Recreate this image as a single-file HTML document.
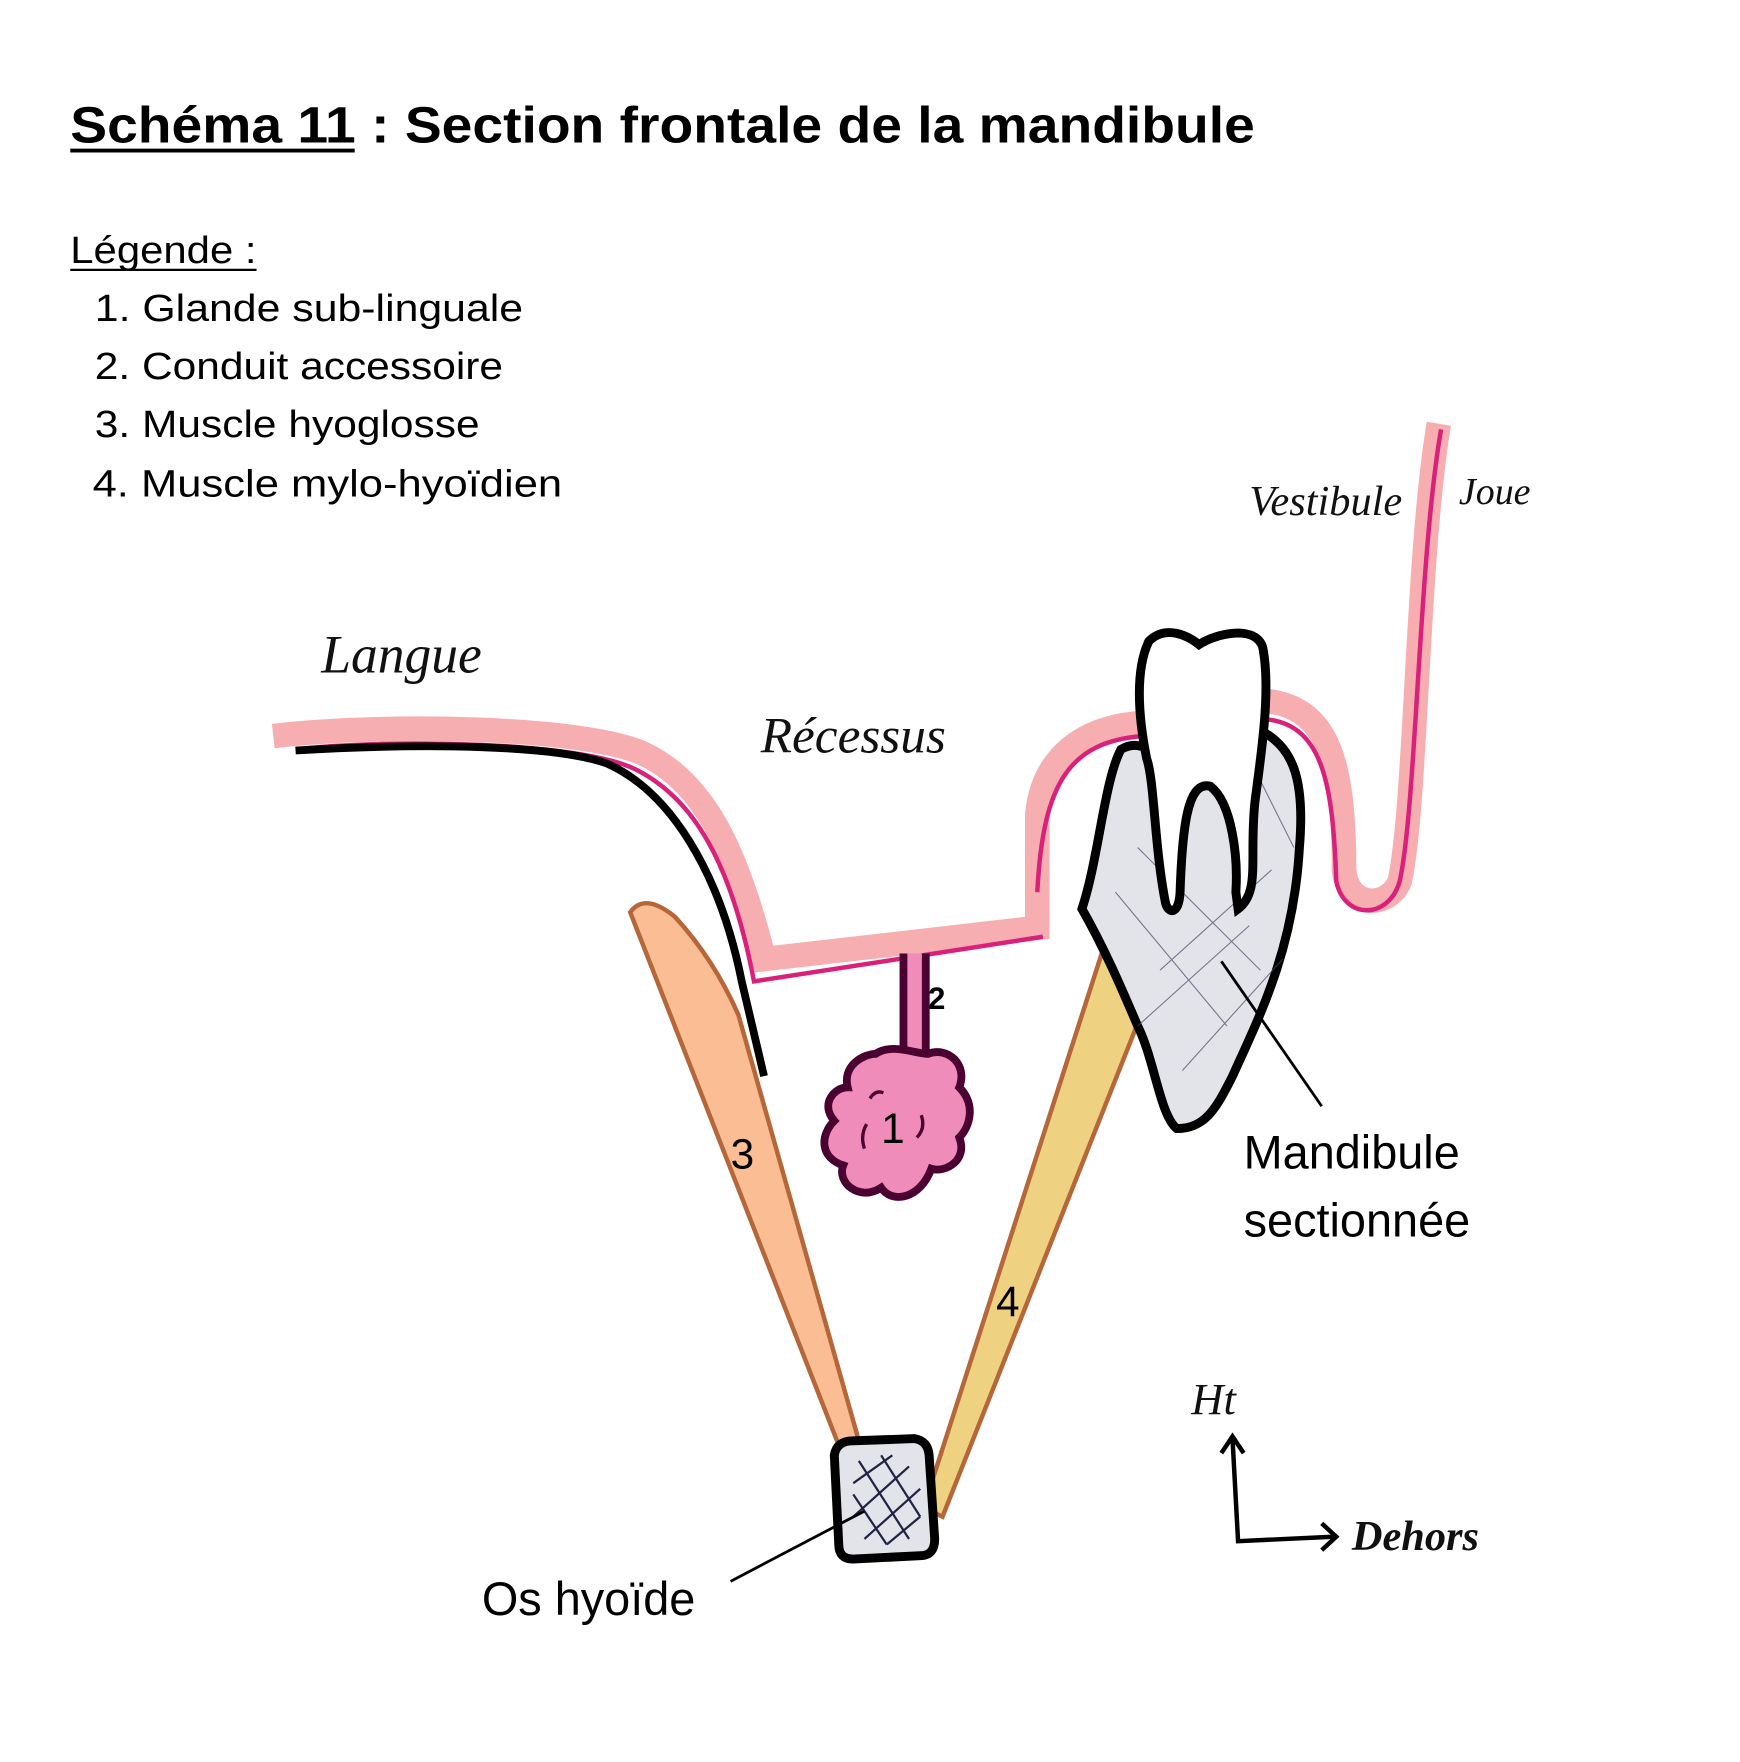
<!DOCTYPE html>
<html><head><meta charset="utf-8"><style>
html,body{margin:0;padding:0;background:#fff;}
svg{display:block;}
</style></head><body>
<svg width="1740" height="1762" viewBox="0 0 1560 1580" preserveAspectRatio="none" xmlns="http://www.w3.org/2000/svg">
<text x="63" y="128" font-family="Liberation Sans, sans-serif" font-weight="bold" font-size="46" textLength="1062" lengthAdjust="spacingAndGlyphs">Schéma 11 : Section frontale de la mandibule</text>
<line x1="63" y1="135" x2="318" y2="135" stroke="#000" stroke-width="3.5"/>
<g font-family="Liberation Sans, sans-serif" font-size="34">
<text x="63" y="236" textLength="167" lengthAdjust="spacingAndGlyphs">Légende :</text>
<line x1="63" y1="242" x2="230" y2="242" stroke="#000" stroke-width="2"/>
<text x="85" y="288" textLength="384" lengthAdjust="spacingAndGlyphs">1. Glande sub-linguale</text>
<text x="85" y="340" textLength="366" lengthAdjust="spacingAndGlyphs">2. Conduit accessoire</text>
<text x="85" y="392" textLength="345" lengthAdjust="spacingAndGlyphs">3. Muscle hyoglosse</text>
<text x="83" y="445" textLength="421" lengthAdjust="spacingAndGlyphs">4. Muscle mylo-hyoïdien</text>
</g>
<!-- muscle 3 -->
<path d="M565,818 Q578,800 605,822 Q640,860 662,910 L770,1292 L752,1296 Z" fill="#fbbd93" stroke="#b5673a" stroke-width="4"/>
<!-- muscle 4 -->
<path d="M990,848 L1025,905 L845,1360 L828,1352 Z" fill="#efd182" stroke="#b5673a" stroke-width="4"/>
<!-- pink mucosa left -->
<path d="M245,660 C350,648 520,652 575,675 C630,700 660,760 685,860 L930,832 L930,730 C935,680 970,650 1030,648" fill="none" stroke="#f6aeb1" stroke-width="22"/>
<path d="M265,672 C350,662 520,665 570,690 C620,715 655,770 676,880 L935,840" fill="none" stroke="#d9207a" stroke-width="4"/>
<!-- black tongue line -->
<path d="M265,673 C380,666 500,668 545,685 C600,710 645,780 665,880 L685,965" fill="none" stroke="#000" stroke-width="7"/>
<!-- pink mucosa right -->
<path d="M1130,628 C1190,632 1205,680 1205,780 C1208,815 1245,815 1255,790 C1270,720 1270,500 1290,380" fill="none" stroke="#f6aeb1" stroke-width="22"/>
<path d="M1135,645 C1185,650 1195,700 1198,790 C1205,825 1245,825 1255,790 C1270,720 1272,500 1292,385" fill="none" stroke="#d9207a" stroke-width="4"/>
<path d="M930,800 C935,700 960,665 1025,660" fill="none" stroke="#d9207a" stroke-width="4"/>
<!-- duct -->
<path d="M810,855 L810,945 L830,945 L830,855" fill="#ef8cba" stroke="#4a0030" stroke-width="7"/>
<!-- gland -->
<path d="M785,945 C800,935 820,945 832,945 C850,938 868,955 860,975 C875,990 870,1010 860,1020 C868,1040 848,1052 835,1048 C825,1075 800,1080 790,1065 C770,1078 750,1060 756,1045 C735,1038 735,1018 748,1005 C735,990 748,975 760,975 C755,955 775,945 785,945 Z" fill="#ef8cba" stroke="#4a0030" stroke-width="7"/>
<path d="M780,985 q5,-8 12,-5 M775,1030 q-4,-12 2,-22 M822,1020 q8,-8 4,-20" fill="none" stroke="#4a0030" stroke-width="3"/>
<text x="790" y="1025" font-family="Liberation Sans, sans-serif" font-size="38">1</text>
<text x="832" y="905" font-family="Liberation Sans, sans-serif" font-weight="bold" font-size="28">2</text>
<text x="655" y="1048" font-family="Liberation Sans, sans-serif" font-size="38">3</text>
<text x="893" y="1180" font-family="Liberation Sans, sans-serif" font-size="38">4</text>
<!-- mandible -->
<path d="M1005,672 C1025,660 1045,680 1040,700 L1130,655 C1160,670 1170,700 1165,760 C1160,850 1130,910 1105,965 C1090,995 1080,1012 1055,1012 C1040,1000 1035,950 1020,920 C1005,885 990,850 970,815 C985,770 990,700 1005,672 Z" fill="#e2e4ea" stroke="#000" stroke-width="8"/>
<g stroke="#4a4a66" stroke-width="1" fill="none" opacity="0.7">
<line x1="1000" y1="800" x2="1100" y2="920"/><line x1="1020" y1="760" x2="1130" y2="870"/><line x1="1040" y1="870" x2="1140" y2="780"/><line x1="1020" y1="920" x2="1120" y2="830"/><line x1="1060" y1="960" x2="1150" y2="860"/><line x1="1130" y1="700" x2="1160" y2="760"/>
</g>
<!-- tooth -->
<path d="M1030,575 C1045,560 1065,570 1075,578 C1090,568 1125,560 1132,580 C1140,620 1130,680 1125,720 C1120,770 1130,800 1110,815 L1108,800 C1110,770 1105,720 1085,705 C1065,700 1060,740 1058,800 C1057,820 1048,820 1045,810 C1035,760 1035,700 1028,680 C1020,640 1018,600 1030,575 Z" fill="#fff" stroke="#000" stroke-width="8"/>
<line x1="1095" y1="862" x2="1185" y2="992" stroke="#000" stroke-width="2.5"/>
<!-- hyoid -->
<path d="M748,1305 Q750,1292 765,1292 L820,1290 Q832,1292 833,1305 L838,1380 Q838,1395 825,1395 L765,1398 Q752,1398 752,1385 Z" fill="#e2e4ea" stroke="#000" stroke-width="8"/>
<g stroke="#222244" stroke-width="2" fill="none">
<line x1="765" y1="1330" x2="800" y2="1305"/><line x1="765" y1="1360" x2="815" y2="1315"/><line x1="775" y1="1380" x2="825" y2="1335"/><line x1="795" y1="1385" x2="825" y2="1360"/>
<line x1="770" y1="1310" x2="815" y2="1380"/><line x1="790" y1="1305" x2="825" y2="1360"/><line x1="765" y1="1340" x2="795" y2="1385"/>
</g>
<line x1="655" y1="1418" x2="775" y2="1355" stroke="#000" stroke-width="2.5"/>
<g font-family="Liberation Sans, sans-serif" font-size="42">
<text x="432" y="1448">Os hyoïde</text>
<text x="1115" y="1048">Mandibule</text>
<text x="1115" y="1109">sectionnée</text>
</g>
<!-- handwritten labels -->
<g font-family="Liberation Serif, serif" font-style="italic" fill="#111">
<text x="288" y="603" font-size="48">Langue</text>
<text x="682" y="675" font-size="46">Récessus</text>
<text x="1120" y="462" font-size="38">Vestibule</text>
<text x="1308" y="452" font-size="34">Joue</text>
<text x="1068" y="1268" font-size="40">Ht</text>
<text x="1212" y="1390" font-size="38" font-weight="bold">Dehors</text>
</g>
<path d="M1105,1290 L1110,1382 L1195,1378 M1095,1303 L1105,1288 L1115,1303 M1185,1366 L1198,1378 L1185,1390" fill="none" stroke="#000" stroke-width="4"/>
</svg>
</body></html>
